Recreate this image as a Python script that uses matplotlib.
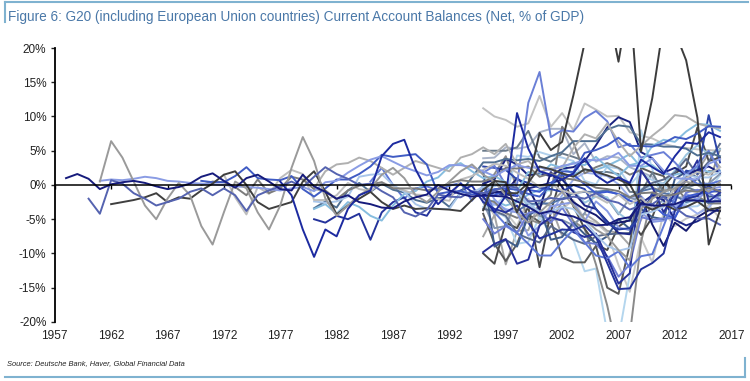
import matplotlib
matplotlib.use("Agg")
import matplotlib.pyplot as plt
import numpy as np
from matplotlib.lines import Line2D
from matplotlib.ticker import FuncFormatter

# Current account balance, % of GDP, annual values.
# Names are only a guess at which line is which country.
us_start = 1958
us = [1.0, 1.6, 0.9, -0.6, 0.1, 0.4, 0.6, 0.3, -0.2, -0.6,
      -0.3, 0.2, 1.2, 1.7, 0.6, -0.4, 1.0, 1.5, 0.5, -0.6,
      -0.8, 1.5, -0.2, -1.0, -2.0, -1.5, -2.5, -2.8, -3.3, -3.4,
      -2.4, -1.8, -1.4, 0.0, -0.8, -1.3, -1.7, -1.5, -1.6, -1.7,
      -2.4, -3.2, -4.2, -3.8, -4.3, -4.6, -5.3, -5.9, -5.8, -5.0,
      -4.7, -2.7, -3.0, -3.0, -2.8, -2.2, -2.3, -2.4, -2.4]

uk_start = 1960
uk = [-2.0, -4.2, 0.7, 0.2, -1.2, -2.0, -3.0, -2.5, -2.0, -1.0,
      -0.5, -1.5, -0.5, -1.5, -3.8, -1.5, -0.8, -0.2, 0.5, -0.3,
      1.2, 2.6, 1.6, 0.9, 0.0, 0.2, -0.9, -1.8, -4.0, -4.6,
      -3.6, -1.4, -1.7, -1.8, -0.9, -1.2, -0.9, -0.1, -0.4, -2.4,
      -2.3, -1.9, -2.1, -1.7, -2.0, -1.2, -2.2, -2.6, -3.6, -3.0,
      -2.8, -1.7, -3.3, -4.5, -4.9, -4.9, -5.8]

australia_start = 1961
australia = [0.5, 6.4, 4.0, 0.5, -3.0, -5.0, -2.0, 0.3, -1.5, -6.0,
             -8.7, -4.0, 0.5, -0.5, -4.0, -6.5, -3.0, 2.5, 7.0, 3.5,
             -2.0, -4.5, -3.0, -1.5, -0.5, 1.5, 2.5, 1.0, -1.5, -2.5,
             -1.0, 0.5, 2.0, 3.0, 1.5, 0.5, -1.5, -4.0, -5.5, -4.0,
             -2.5, -1.0, -3.0, -5.0, -6.5, -7.5, -9.5, -11.0, -3.5, -2.0,
             -1.0, -0.5, 0.5, 0.0, -1.0, 0.5]

canada_start = 1962
canada = [-2.8, -2.5, -2.2, -1.8, -1.2, -2.5, -1.8, -2.0, -0.8, 0.2,
          1.5, 2.0, 0.0, -2.5, -3.5, -3.0, -2.5, 0.5, 2.0, -1.0,
          -4.3, -3.0, -2.0, -1.0, -2.5, -3.5, -3.0, -3.5, -3.4, -3.5,
          -3.6, -3.8, -2.2, -0.7, 0.6, -1.2, -1.2, 0.3, 2.7, 2.3,
          1.7, 1.2, 2.3, 1.9, 1.4, 0.8, 0.1, -2.9, -3.6, -2.8,
          -3.6, -3.2, -2.4, -3.6, -3.3]

japan_start = 1961
japan = [0.6, 0.8, 0.7, 0.9, 1.2, 1.0, 0.6, 0.5, 0.3, 0.2,
         0.1, 0.0, -0.2, -0.3, -0.4, -0.6, -0.8, -0.5, -0.3, -0.9,
         0.4, 0.6, 1.8, 2.8, 3.7, 4.2, 3.4, 2.6, 2.0, 1.4,
         1.9, 2.9, 2.9, 2.6, 2.0, 1.3, 2.2, 2.9, 2.5, 2.6,
         2.1, 2.8, 3.1, 3.7, 3.6, 3.8, 4.7, 2.8, 2.8, 3.9,
         2.1, 1.0, 0.9, 0.8, 3.1, 3.8]

germany_start = 1970
germany = [0.6, 0.4, 0.4, 1.3, 2.6, 1.0, 0.8, 0.7, 1.3, -0.6,
           -1.7, -0.5, 0.8, 0.8, 1.6, 2.7, 4.4, 4.1, 4.3, 4.5,
           3.0, -1.3, -1.0, -0.9, -1.4, -1.2, -0.6, -0.5, -0.7, -1.3,
           -1.7, 0.0, 2.0, 1.9, 4.7, 5.1, 5.8, 6.9, 5.7, 5.7,
           5.6, 6.1, 7.0, 6.7, 7.5, 8.6, 8.5]

france_start = 1970
france = [0.0, 0.5, 0.4, -0.3, -1.5, 0.8, -1.2, -0.5, 1.2, 0.8,
          -0.6, -0.8, -2.1, -0.8, -0.1, 0.1, 0.4, -0.5, -0.5, -0.5,
          -0.8, -0.5, 0.3, 0.7, 0.5, 0.5, 1.1, 2.5, 2.4, 2.7,
          1.2, 1.7, 1.0, 0.8, 0.4, -0.4, -0.6, -0.9, -1.8, -1.2,
          -1.1, -1.6, -1.4, -0.8, -1.0, -0.4, -0.9]

italy_start = 1972
italy = [1.5, -1.8, -4.3, -0.3, -1.3, 1.0, 2.2, 1.6, -2.2, -2.2,
         -1.5, 0.3, -0.6, -0.9, 0.4, -0.3, -0.8, -1.4, -1.5, -2.1,
         -2.3, 0.8, 1.3, 2.2, 3.1, 2.8, 1.8, 0.9, -0.3, 0.1,
         -0.8, -1.3, -0.9, -1.7, -2.6, -1.4, -2.8, -1.9, -3.4, -3.0,
         -0.4, 1.0, 1.9, 1.5, 2.6]

korea_start = 1977
korea = [0.5, -1.5, -6.5, -10.5, -6.5, -7.5, -3.5, -1.5, -0.8, 4.2,
         6.0, 6.6, 2.3, -0.8, -2.8, -1.2, 0.2, -1.0, -1.7, -4.0,
         -1.6, 10.5, 5.3, 2.0, 1.5, 0.8, 1.7, 3.9, 1.4, 0.3,
         1.1, 0.3, 3.7, 2.6, 1.6, 4.2, 6.2, 6.0, 7.7, 7.0]

spain_start = 1980
spain = [-2.4, -2.6, -2.4, -1.7, 1.2, 1.5, 1.6, 0.0, -1.0, -2.8,
         -3.5, -3.5, -3.5, -1.1, -1.1, -0.3, -0.2, 0.4, -1.0, -2.7,
         -3.9, -3.9, -3.2, -3.5, -5.2, -7.3, -8.9, -9.6, -9.2, -4.3,
         -3.9, -3.2, -0.2, 1.5, 1.1, 1.1, 1.9]

netherlands_start = 1980
netherlands = [-0.5, 2.0, 3.0, 3.2, 4.0, 3.5, 2.5, 1.5, 2.5, 3.5,
               3.0, 2.5, 2.0, 4.0, 4.5, 5.5, 4.5, 6.0, 3.0, 3.5,
               1.9, 2.4, 2.5, 5.4, 7.4, 6.8, 9.0, 6.3, 4.2, 5.7,
               7.2, 8.5, 10.2, 10.0, 9.0, 8.5, 8.3]

denmark_start = 1980
denmark = [-3.5, -2.8, -4.2, -2.5, -3.2, -4.5, -5.2, -3.0, -1.3, -0.9,
           0.5, 1.1, 2.7, 3.2, 2.0, 1.0, 1.3, 0.4, -0.9, 1.9,
           1.5, 3.0, 2.5, 3.3, 2.9, 4.1, 2.6, 1.3, 2.9, 3.3,
           5.7, 6.6, 6.3, 7.8, 8.9, 8.8, 7.9]

sweden_start = 1980
sweden = [-3.4, -2.4, -3.3, -0.8, 0.3, -1.0, 0.2, -0.7, -1.1, -2.2,
          -2.6, -1.9, -3.2, -1.1, 1.1, 3.3, 3.3, 3.8, 3.6, 3.8,
          3.5, 4.2, 4.8, 6.4, 6.4, 6.4, 8.1, 8.7, 8.5, 6.0,
          5.9, 5.6, 5.6, 5.3, 4.3, 4.7, 4.2]

greece_start = 1980
greece = [-5.0, -5.5, -4.5, -5.0, -4.2, -8.0, -4.0, -2.5, -1.8, -4.0,
          -4.5, -2.0, -1.5, -0.8, -0.1, -2.5, -3.5, -4.0, -3.0, -5.5,
          -7.8, -7.2, -6.5, -6.6, -5.9, -7.6, -11.4, -15.2, -15.1, -12.3,
          -11.4, -10.0, -3.8, -2.0, -1.6, -0.2, -1.1]

portugal_start = 1985
portugal = [0.5, 2.5, 0.0, -2.0, -0.5, -0.2, -0.8, -0.1, 0.3, -2.3,
            -0.1, -4.0, -5.8, -7.0, -8.6, -10.3, -10.3, -8.3, -6.5, -8.4,
            -10.3, -10.7, -9.7, -12.1, -10.4, -10.1, -6.0, -1.8, 1.6, 0.1,
            0.1, 0.6]

# series that start in 1995
late_start = 1995
saudi = [-3.7, 0.6, 0.4, -4.0, 0.3, 7.6, 5.1, 6.3, 13.1, 20.8, 28.5,
         26.3, 18.0, 27.8, 4.9, 12.7, 23.6, 22.4, 18.2, 9.8, -8.7, -3.7]
russia = [1.8, 2.8, 0.0, 0.1, 12.0, 16.5, 7.0, 8.0, 7.8, 9.8, 10.8,
          9.3, 5.5, 6.0, 4.0, 4.4, 4.8, 3.3, 1.5, 2.8, 5.0, 1.9]
china = [0.2, 0.8, 3.8, 3.0, 1.4, 1.7, 1.3, 2.4, 2.6, 3.5, 5.8,
         8.4, 9.9, 9.2, 4.8, 3.9, 1.8, 2.5, 1.5, 2.2, 2.7, 1.8]
latvia = [-0.2, -3.8, -4.7, -8.6, -8.3, -4.6, -7.2, -6.5, -8.0, -12.6, -12.2,
          -21.6, -22.4, -13.1, 8.0, 2.3, -2.8, -3.2, -2.7, -2.0, -0.8, 1.4]
bulgaria = [-0.2, 1.6, 4.2, -0.5, -5.0, -5.6, -5.5, -2.4, -5.3, -6.4, -11.6,
            -17.6, -25.2, -22.0, -8.3, -1.7, 0.3, -0.9, 1.3, 0.1, 0.0, 5.3]
estonia = [-4.2, -8.6, -11.1, -8.6, -4.3, -5.4, -5.2, -10.6, -11.3, -11.3, -8.9,
           -15.0, -15.9, -8.7, 2.5, 1.8, 1.3, -1.9, -0.1, 0.9, 2.0, 2.0]
lithuania = [-9.8, -8.6, -7.9, -11.5, -10.9, -5.9, -4.7, -5.2, -6.9, -7.6, -7.1,
             -10.6, -14.4, -12.9, 2.1, -0.3, -4.0, -1.2, 0.6, 3.6, -2.4, -1.1]
romania = [-5.0, -7.1, -6.0, -7.0, -4.1, -3.7, -5.5, -3.3, -5.8, -8.4, -8.6,
           -10.4, -13.4, -11.6, -4.7, -5.1, -4.9, -4.8, -1.1, -0.7, -1.2, -2.1]
cyprus = [-1.5, -4.5, -4.0, -6.0, -2.0, -5.0, -3.0, -3.5, -2.2, -5.0, -5.5,
          -7.0, -11.7, -15.6, -7.7, -11.3, -4.0, -6.0, -4.9, -4.3, -2.9, -4.9]
hungary = [-3.5, -3.8, -4.5, -7.1, -7.8, -8.4, -6.0, -7.0, -8.0, -8.6, -7.5,
           -7.2, -7.1, -7.0, -0.8, 0.3, 0.8, 1.8, 3.8, 1.5, 3.4, 6.0]
poland = [0.6, -2.1, -3.7, -4.0, -7.4, -6.0, -3.1, -2.8, -2.5, -5.3, -2.4,
          -3.8, -6.2, -6.6, -4.0, -5.4, -5.2, -3.7, -1.3, -2.1, -0.6, -0.3]
czech = [-2.5, -6.3, -6.0, -2.0, -2.4, -4.5, -5.0, -5.1, -5.9, -4.1, -0.9,
         -2.0, -4.3, -1.9, -2.3, -3.6, -2.1, -1.6, -0.5, 0.2, 0.2, 1.6]
slovakia = [2.0, -9.0, -8.0, -9.0, -4.5, -3.3, -8.0, -7.6, -5.5, -7.2, -8.5,
            -7.5, -5.0, -6.4, -3.5, -4.7, -5.0, 0.9, 1.9, 1.1, -1.7, -1.5]
slovenia = [-0.5, 0.2, 0.3, -0.6, -3.3, -2.7, 0.2, 0.8, -0.8, -2.6, -1.7,
            -1.8, -4.1, -5.3, -0.6, -0.1, 0.2, 2.1, 4.4, 5.8, 4.5, 5.2]
croatia = [-7.5, -4.4, -11.6, -6.7, -6.6, -2.4, -3.1, -7.4, -5.9, -4.2, -5.3,
           -6.7, -7.0, -8.8, -5.1, -1.1, -0.7, -0.1, 0.9, 2.0, 4.6, 2.6]
ireland = [2.7, 2.5, 2.2, 0.8, 0.3, -0.4, -0.6, -1.0, 0.0, -0.6, -3.5,
           -5.6, -6.5, -6.3, -4.6, -1.2, -1.6, -2.6, 2.1, 1.7, 10.2, 3.3]
luxembourg = [11.2, 10.0, 9.5, 8.5, 9.0, 13.0, 8.5, 10.5, 8.0, 11.9, 11.0,
              10.0, 10.1, 7.7, 7.2, 6.8, 6.0, 5.6, 5.4, 5.2, 5.1, 5.0]
finland = [3.9, 4.0, 5.5, 5.3, 5.6, 7.7, 8.2, 8.2, 4.5, 6.1, 3.4,
           4.2, 4.0, 2.6, 1.9, 1.2, -1.8, -1.9, -1.7, -1.3, -0.9, -1.1]
austria = [-2.5, -2.3, -3.0, -2.5, -1.4, -0.7, -0.8, 2.5, 1.6, 2.2, 2.2,
           2.8, 3.6, 4.5, 2.6, 2.9, 1.6, 1.5, 1.9, 2.5, 1.9, 2.1]
belgium = [5.0, 5.0, 5.0, 5.5, 7.9, 4.0, 3.4, 4.6, 4.1, 3.5, 1.9,
           1.9, 1.6, -1.0, -1.1, 1.8, -1.1, -0.1, -0.3, -0.9, -0.1, 0.1]
malta = [-10.0, -11.5, -5.5, -6.3, -3.2, -12.0, -3.9, 1.8, -3.1, -6.4, -8.7,
         -9.5, -6.1, -4.9, -7.3, -4.7, -0.2, 1.7, 2.7, 8.4, 3.5, 4.0]
south_africa = [-1.7, -1.1, -1.4, -1.6, -0.5, -0.1, 0.3, 0.8, -1.0, -3.0, -3.5,
                -5.3, -7.0, -7.2, -2.7, -1.5, -2.2, -5.1, -5.9, -5.3, -4.4, -3.3]
india = [-1.6, -1.5, -0.7, -1.6, -0.7, -1.0, 0.3, 1.4, 1.5, 0.1, -1.2,
         -1.0, -1.3, -2.3, -2.8, -2.8, -4.3, -4.8, -1.7, -1.3, -1.1, -0.7]
brazil = [-2.4, -2.8, -3.5, -4.0, -4.3, -3.8, -4.2, -1.5, 0.8, 1.8, 1.6,
          1.3, 0.1, -1.8, -1.6, -3.4, -2.9, -3.0, -3.0, -4.2, -3.3, -1.3]
argentina = [-2.0, -2.5, -4.1, -4.8, -4.2, -3.2, -1.4, 8.5, 6.2, 1.7, 2.6,
             3.2, 2.5, 1.5, 2.2, -0.4, -1.0, -0.2, -2.1, -1.6, -2.7, -2.7]
mexico = [-0.5, -0.8, -1.9, -3.8, -2.8, -2.7, -2.7, -2.0, -1.2, -1.0, -1.0,
          -0.8, -1.4, -1.8, -0.9, -0.5, -1.2, -1.5, -2.5, -2.0, -2.6, -2.2]
turkey = [-1.4, -1.0, -1.0, 1.0, -0.4, -3.6, 1.9, -0.3, -2.5, -3.6, -4.4,
          -5.8, -5.5, -5.2, -1.8, -5.8, -8.9, -5.5, -6.7, -4.7, -3.7, -3.8]
indonesia = [-3.2, -2.9, -1.6, 4.3, 4.1, 4.8, 4.3, 4.0, 3.5, 0.6, 0.1,
             2.7, 2.4, 0.0, 1.8, 0.7, 0.2, -2.7, -3.2, -3.1, -2.0, -1.8]

year_ticks = list(range(1957, 2018, 5))
pct_ticks = [-20, -15, -10, -5, 0, 5, 10, 15, 20]

title = "Figure 6: G20 (including European Union countries) Current Account Balances (Net, % of GDP)"
source = "Source: Deutsche Bank, Haver, Global Financial Data"

# (start year, values, colour)
series = [
    (late_start, luxembourg, "#c2c2c2"),
    (late_start, finland, "#aab4c8"),
    (late_start, cyprus, "#c8c8c8"),
    (late_start, croatia, "#a5a5a5"),
    (late_start, latvia, "#b4d6ee"),
    (late_start, bulgaria, "#8a8a8a"),
    (late_start, estonia, "#5a5a5a"),
    (late_start, malta, "#4a4a4a"),
    (late_start, czech, "#8596b0"),
    (late_start, slovenia, "#9cc6e0"),
    (late_start, austria, "#86bddf"),
    (late_start, belgium, "#6a7a8a"),
    (late_start, indonesia, "#b0d0ec"),
    (late_start, brazil, "#9db0ec"),
    (late_start, argentina, "#7c7c7c"),
    (late_start, mexico, "#5274a8"),
    (late_start, poland, "#8a9ce4"),
    (late_start, hungary, "#5b6a8a"),
    (late_start, slovakia, "#3d5c8a"),
    (late_start, romania, "#6f7ed5"),
    (late_start, lithuania, "#27309a"),
    (late_start, south_africa, "#1d2787"),
    (late_start, india, "#3c5ad0"),
    (late_start, turkey, "#151a6e"),
    (late_start, ireland, "#2b44a8"),
    (late_start, china, "#1a2380"),
    (late_start, russia, "#6a7fd6"),
    (portugal_start, portugal, "#5f79d6"),
    (greece_start, greece, "#24339c"),
    (sweden_start, sweden, "#4f6f92"),
    (denmark_start, denmark, "#86bddf"),
    (netherlands_start, netherlands, "#b0b0b0"),
    (spain_start, spain, "#a9c6ea"),
    (italy_start, italy, "#bdbdbd"),
    (france_start, france, "#7c7c7c"),
    (germany_start, germany, "#3f5bc4"),
    (japan_start, japan, "#8a9ce4"),
    (canada_start, canada, "#3f3f3f"),
    (australia_start, australia, "#9a9a9a"),
    (uk_start, uk, "#5563b0"),
    (korea_start, korea, "#1c2aa0"),
    (us_start, us, "#161b7c"),
    (late_start, saudi, "#3c3c3c"),
]

fig = plt.figure(figsize=(7.5, 3.81), dpi=100)
ax = fig.add_axes([0.073, 0.155, 0.902, 0.719])

for start, vals, col in series:
    yrs = np.arange(start, start + len(vals))
    ax.plot(yrs, vals, color=col, lw=1.4, solid_joinstyle="round")

ax.set_xlim(1957, 2017)
ax.set_ylim(-20, 20)

for s in ["top", "right"]:
    ax.spines[s].set_visible(False)
ax.spines["bottom"].set_position(("data", 0))
ax.spines["bottom"].set_linewidth(1.1)
ax.spines["left"].set_linewidth(1.3)
ax.spines["bottom"].set_zorder(5)

ax.set_yticks(pct_ticks)
ax.yaxis.set_major_formatter(FuncFormatter(lambda v, p: f"{v:.0f}%"))
ax.tick_params(axis="y", length=3, width=1, pad=3, labelsize=8.5, colors="#222222")
ax.set_xticks(year_ticks)
ax.tick_params(axis="x", length=3, width=1, labelbottom=False)

# year labels sit at the bottom, ticks stay on the zero line
sec = ax.secondary_xaxis("bottom")
sec.set_xticks(year_ticks)
sec.spines["bottom"].set_visible(False)
sec.tick_params(length=0, pad=6, labelsize=8.6, colors="#222222")
for lab in sec.get_xticklabels() + ax.get_yticklabels():
    lab.set_family(["Liberation Sans", "DejaVu Sans"])

frame = "#7fb2d0"
fig.add_artist(Line2D([0.007, 0.997], [0.995, 0.995], color=frame, lw=1.5))
fig.add_artist(Line2D([0.007, 0.007], [0.995, 0.942], color=frame, lw=1.5))
fig.add_artist(Line2D([0.007, 0.993], [0.0105, 0.0105], color=frame, lw=1.5))
fig.add_artist(Line2D([0.993, 0.993], [0.0105, 0.06], color=frame, lw=1.5))

fig.text(0.011, 0.955, title, fontsize=9.8, color="#4a78a8", va="center",
         family=["Liberation Sans", "DejaVu Sans"])
fig.text(0.009, 0.045, source, fontsize=5.4, style="italic", color="#222222",
         va="center", family=["Liberation Sans", "DejaVu Sans"])

fig.savefig("out.png", dpi=100)
